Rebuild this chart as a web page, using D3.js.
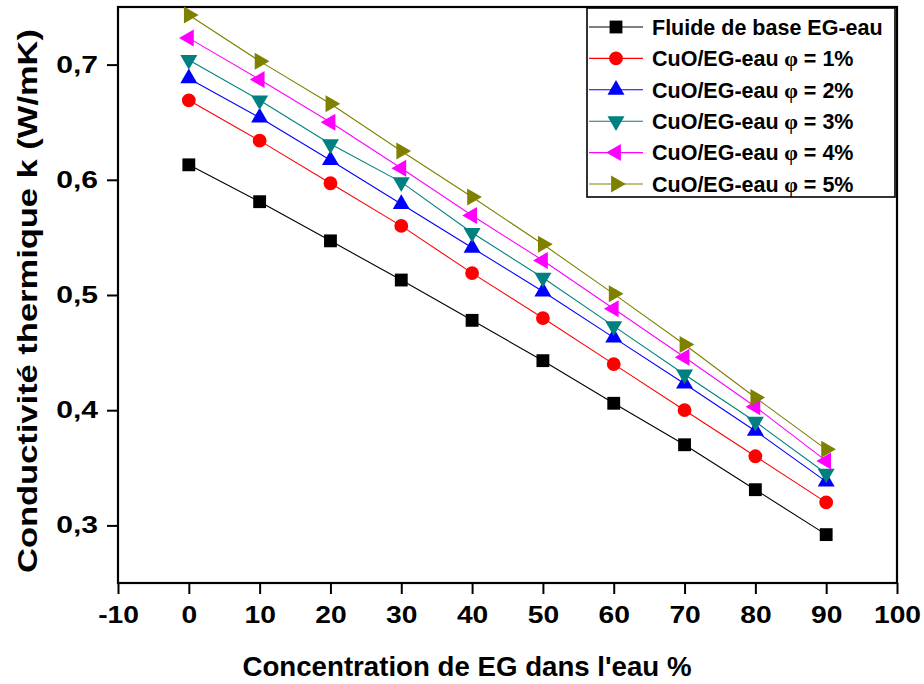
<!DOCTYPE html>
<html lang="fr">
<head>
    <meta charset="UTF-8">
    <title>Conductivité thermique</title>
    <script src="https://d3js.org/d3.v7.min.js"></script>
    <style>
        body {
            margin: 0;
            padding: 0;
            background: #fff;
        }
        svg {
            display: block;
            font-family: "Liberation Sans", Arial, sans-serif;
            font-weight: bold;
        }
        .tick text {
            font-family: "Liberation Sans", Arial, sans-serif;
            font-size: 23.5px;
            font-weight: bold;
            fill: #000;
        }
        .tick line {
            stroke: #000;
            stroke-width: 2px;
        }
    </style>
</head>
<body>
    <svg id="chart" width="924" height="684"></svg>

    <script>
        // data
        const concentration = [0, 10, 20, 30, 40, 50, 60, 70, 80, 90];
        const baseFluid = [0.613, 0.581, 0.547, 0.513, 0.478, 0.443, 0.406, 0.370, 0.331, 0.292];
        const cuo1 = [0.669, 0.634, 0.597, 0.560, 0.519, 0.480, 0.440, 0.400, 0.360, 0.320];
        const cuo2 = [0.688, 0.654, 0.617, 0.579, 0.541, 0.503, 0.463, 0.423, 0.382, 0.338];
        const cuo3 = [0.704, 0.669, 0.631, 0.598, 0.554, 0.515, 0.473, 0.431, 0.390, 0.345];
        const cuo4 = [0.723, 0.687, 0.650, 0.610, 0.569, 0.530, 0.488, 0.446, 0.403, 0.356];
        const cuo5 = [0.743, 0.703, 0.666, 0.625, 0.585, 0.544, 0.501, 0.457, 0.411, 0.366];

        const seriesLabels = ["Fluide de base EG-eau", "CuO/EG-eau", "CuO/EG-eau", "CuO/EG-eau", "CuO/EG-eau", "CuO/EG-eau"];
        const phiLabels = ["", "1%", "2%", "3%", "4%", "5%"];
        const xTicks = [-10, 0, 10, 20, 30, 40, 50, 60, 70, 80, 90, 100];
        const yTicks = [0.3, 0.4, 0.5, 0.6, 0.7];

        const colors = ["#000000", "#ff0000", "#0000ff", "#008080", "#ff00ff", "#808000"];
        // symbol type + rotation for each series
        const symbols = [
            { type: d3.symbolSquare, size: 165, rot: 0 },
            { type: d3.symbolCircle, size: 150, rot: 0 },
            { type: d3.symbolTriangle, size: 125, rot: 0 },
            { type: d3.symbolTriangle, size: 125, rot: 180 },
            { type: d3.symbolTriangle, size: 125, rot: -90 },
            { type: d3.symbolTriangle, size: 125, rot: 90 }
        ];

        const allSeries = [baseFluid, cuo1, cuo2, cuo3, cuo4, cuo5];

        const plot = { left: 118, right: 897, top: 7, bottom: 583 };

        const svg = d3.select("#chart");

        const x = d3.scaleLinear().domain([-10, 100]).range([plot.left, plot.right]);
        const y = d3.scaleLinear().domain([0.25, 0.75]).range([plot.bottom, plot.top]);

        // the tick labels in the original are a bit wider than plain Arial bold
        const widen = (sel, k) => sel.selectAll(".tick text").each(function () {
            const w = this.getComputedTextLength();
            d3.select(this).attr("textLength", w * k).attr("lengthAdjust", "spacingAndGlyphs");
        });

        // axes (plain hyphen for negatives, comma decimals)
        svg.append("g")
            .attr("transform", `translate(0,${plot.bottom})`)
            .call(d3.axisBottom(x).tickValues(xTicks).tickSize(11).tickPadding(12).tickFormat(d => String(d)))
            .call(g => g.select(".domain").remove())
            .call(g => widen(g, 1.2));

        svg.append("g")
            .attr("transform", `translate(${plot.left},0)`)
            .call(d3.axisLeft(y).tickValues(yTicks).tickSize(11).tickPadding(9)
                .tickFormat(d => d.toFixed(1).replace(".", ",")))
            .call(g => g.select(".domain").remove())
            .call(g => widen(g, 1.28));

        // frame
        svg.append("rect")
            .attr("x", plot.left)
            .attr("y", plot.top)
            .attr("width", plot.right - plot.left)
            .attr("height", plot.bottom - plot.top)
            .attr("fill", "none")
            .attr("stroke", "#000")
            .attr("stroke-width", 2.2);

        // lines + markers
        const line = d3.line()
            .x((d, i) => x(concentration[i]))
            .y(d => y(d));

        allSeries.forEach((vals, s) => {
            svg.append("path")
                .datum(vals)
                .attr("d", line)
                .attr("fill", "none")
                .attr("stroke", colors[s])
                .attr("stroke-width", 1.1);
        });

        allSeries.forEach((vals, s) => {
            const sym = d3.symbol().type(symbols[s].type).size(symbols[s].size);
            svg.append("g").selectAll("path")
                .data(vals)
                .enter().append("path")
                .attr("d", sym)
                .attr("fill", colors[s])
                .attr("transform", (d, i) => `translate(${x(concentration[i])},${y(d)}) rotate(${symbols[s].rot})`);
        });

        // legend
        const legend = svg.append("g");
        legend.append("rect")
            .attr("x", 587)
            .attr("y", 8)
            .attr("width", 308)
            .attr("height", 189)
            .attr("fill", "#fff")
            .attr("stroke", "#000")
            .attr("stroke-width", 1.6);

        seriesLabels.forEach((lab, s) => {
            const ly = 27 + s * 31.4;
            legend.append("line")
                .attr("x1", 589).attr("x2", 643)
                .attr("y1", ly).attr("y2", ly)
                .attr("stroke", colors[s])
                .attr("stroke-width", 1.1);
            legend.append("path")
                .attr("d", d3.symbol().type(symbols[s].type).size(symbols[s].size)())
                .attr("fill", colors[s])
                .attr("transform", `translate(616,${ly}) rotate(${symbols[s].rot})`);
            const t = legend.append("text")
                .attr("x", 652)
                .attr("y", ly)
                .attr("dy", "0.36em")
                .style("font-size", "21.5px")
                .text(lab);
            if (phiLabels[s]) {
                t.append("tspan")
                    .style("font-family", "'Liberation Serif', serif")
                    .style("font-size", "22px")
                    .text(" \u03c6");
                t.append("tspan").text(" = " + phiLabels[s]);
            }
        });

        // axis titles
        svg.append("text")
            .attr("x", 467)
            .attr("y", 676)
            .attr("text-anchor", "middle")
            .attr("textLength", 449)
            .attr("lengthAdjust", "spacingAndGlyphs")
            .style("font-size", "28px")
            .text("Concentration de EG dans l'eau %");

        svg.append("text")
            .attr("transform", "translate(37,301) rotate(-90)")
            .attr("text-anchor", "middle")
            .attr("textLength", 544)
            .attr("lengthAdjust", "spacingAndGlyphs")
            .style("font-size", "28px")
            .text("Conductivité thermique k (W/mK)");
    </script>
</body>
</html>
